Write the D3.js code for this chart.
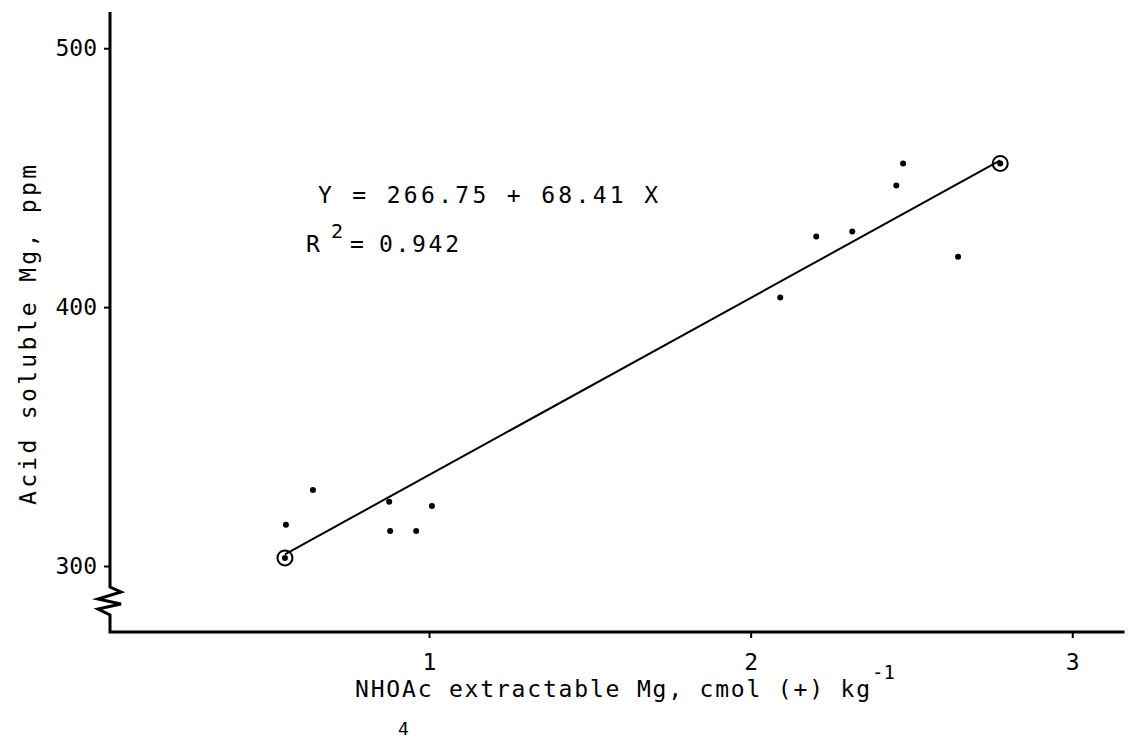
<!DOCTYPE html>
<meta charset="utf-8">
<script src="https://cdn.jsdelivr.net/npm/d3@7"></script>
<style>
body { margin: 0; background: #fff; }
text { fill: #000; font-family: "DejaVu Sans Mono", monospace; }
.axis text { font-size: 23px; }
.axis line { stroke: #000; stroke-width: 2px; }
.axis path { display: none; }
</style>
<body>
<script>

// measured values (NH4OAc Mg vs acid soluble Mg)
var magX = [0.552, 0.555, 0.639, 0.876, 0.879, 0.960, 1.009, 2.092, 2.204, 2.316, 2.453, 2.474, 2.645, 2.776];
var magY = [303.1, 315.9, 329.4, 324.8, 313.5, 313.5, 323.2, 403.7, 427.3, 429.2, 447.0, 455.5, 419.5, 455.5];
var circled = [true, false, false, false, false, false, false, false, false, false, false, false, false, true];

var xTicks = [1, 2, 3];
var yTicks = [300, 400, 500];

var intercept = 266.75,
    slope = 68.41,
    fitRange = [0.552, 2.776];

var width = 1134,
    height = 741;

var svg = d3.select("body").append("svg")
    .attr("width", width)
    .attr("height", height);

var x = d3.scaleLinear().domain([0.008, 3.15]).range([110, 1120.5]);
var y = d3.scaleLinear().domain([274.5, 514]).range([632, 12]);

// axes with the break on the y axis
var x0 = x.range()[0], yb = y.range()[0];
var axisPath = d3.path();
axisPath.moveTo(x0, y.range()[1]);
axisPath.lineTo(x0, yb - 45);
axisPath.lineTo(x0 + 11, yb - 40);
axisPath.lineTo(x0 - 12, yb - 33);
axisPath.lineTo(x0 + 11, yb - 28);
axisPath.lineTo(x0 - 12, yb - 23);
axisPath.lineTo(x0, yb - 17);
axisPath.lineTo(x0, yb);
axisPath.lineTo(x.range()[1] + 4, yb);

svg.append("path")
    .attr("d", axisPath.toString())
    .style("fill", "none")
    .style("stroke", "#000")
    .style("stroke-width", 3);

svg.append("g")
    .attr("class", "axis")
    .attr("transform", "translate(" + x0 + ",0)")
    .call(d3.axisLeft(y).tickValues(yTicks).tickSize(6).tickPadding(7));

svg.append("g")
    .attr("class", "axis")
    .attr("transform", "translate(0," + yb + ")")
    .call(d3.axisBottom(x).tickValues(xTicks).tickSize(6).tickPadding(16).tickFormat(d3.format("d")));

// regression line
svg.append("line")
    .attr("x1", x(fitRange[0]))
    .attr("y1", y(intercept + slope * fitRange[0]))
    .attr("x2", x(fitRange[1]))
    .attr("y2", y(intercept + slope * fitRange[1]))
    .style("stroke", "#000")
    .style("stroke-width", 2);

var pts = magX.map(function(d, i) { return {x: d, y: magY[i], c: circled[i]}; });

svg.append("g").selectAll("circle.dot")
    .data(pts)
    .enter().append("circle")
    .attr("class", "dot")
    .attr("cx", function(d) { return x(d.x); })
    .attr("cy", function(d) { return y(d.y); })
    .attr("r", 3)
    .style("fill", "#000");

svg.append("g").selectAll("circle.ring")
    .data(pts.filter(function(d) { return d.c; }))
    .enter().append("circle")
    .attr("class", "ring")
    .attr("cx", function(d) { return x(d.x); })
    .attr("cy", function(d) { return y(d.y); })
    .attr("r", 7.5)
    .style("fill", "none")
    .style("stroke", "#000")
    .style("stroke-width", 2);

// equation
svg.append("text")
    .attr("x", 318).attr("y", 203)
    .attr("textLength", 340).attr("lengthAdjust", "spacing")
    .style("font-size", "23px")
    .text("Y = 266.75 + 68.41   X");

svg.append("text").attr("x", 306).attr("y", 252).style("font-size", "23px").text("R");
svg.append("text").attr("x", 331).attr("y", 238).style("font-size", "20px").text("2");
svg.append("text").attr("x", 350).attr("y", 252).style("font-size", "23px").text("=");
svg.append("text").attr("x", 379).attr("y", 252).style("font-size", "23px")
    .attr("textLength", 80).attr("lengthAdjust", "spacing").text("0.942");

// axis titles
svg.append("text")
    .attr("x", 355).attr("y", 697)
    .attr("textLength", 515).attr("lengthAdjust", "spacing")
    .style("font-size", "23px")
    .text("NHOAc extractable Mg, cmol (+) kg");
svg.append("text").attr("x", 398).attr("y", 735).style("font-size", "18px").text("4");
svg.append("text").attr("x", 872).attr("y", 679).style("font-size", "19px").text("-1");

svg.append("text")
    .attr("transform", "translate(36,505) rotate(-90)")
    .attr("textLength", 340).attr("lengthAdjust", "spacing")
    .style("font-size", "23px")
    .text("Acid soluble Mg, ppm");

</script>
</body>
